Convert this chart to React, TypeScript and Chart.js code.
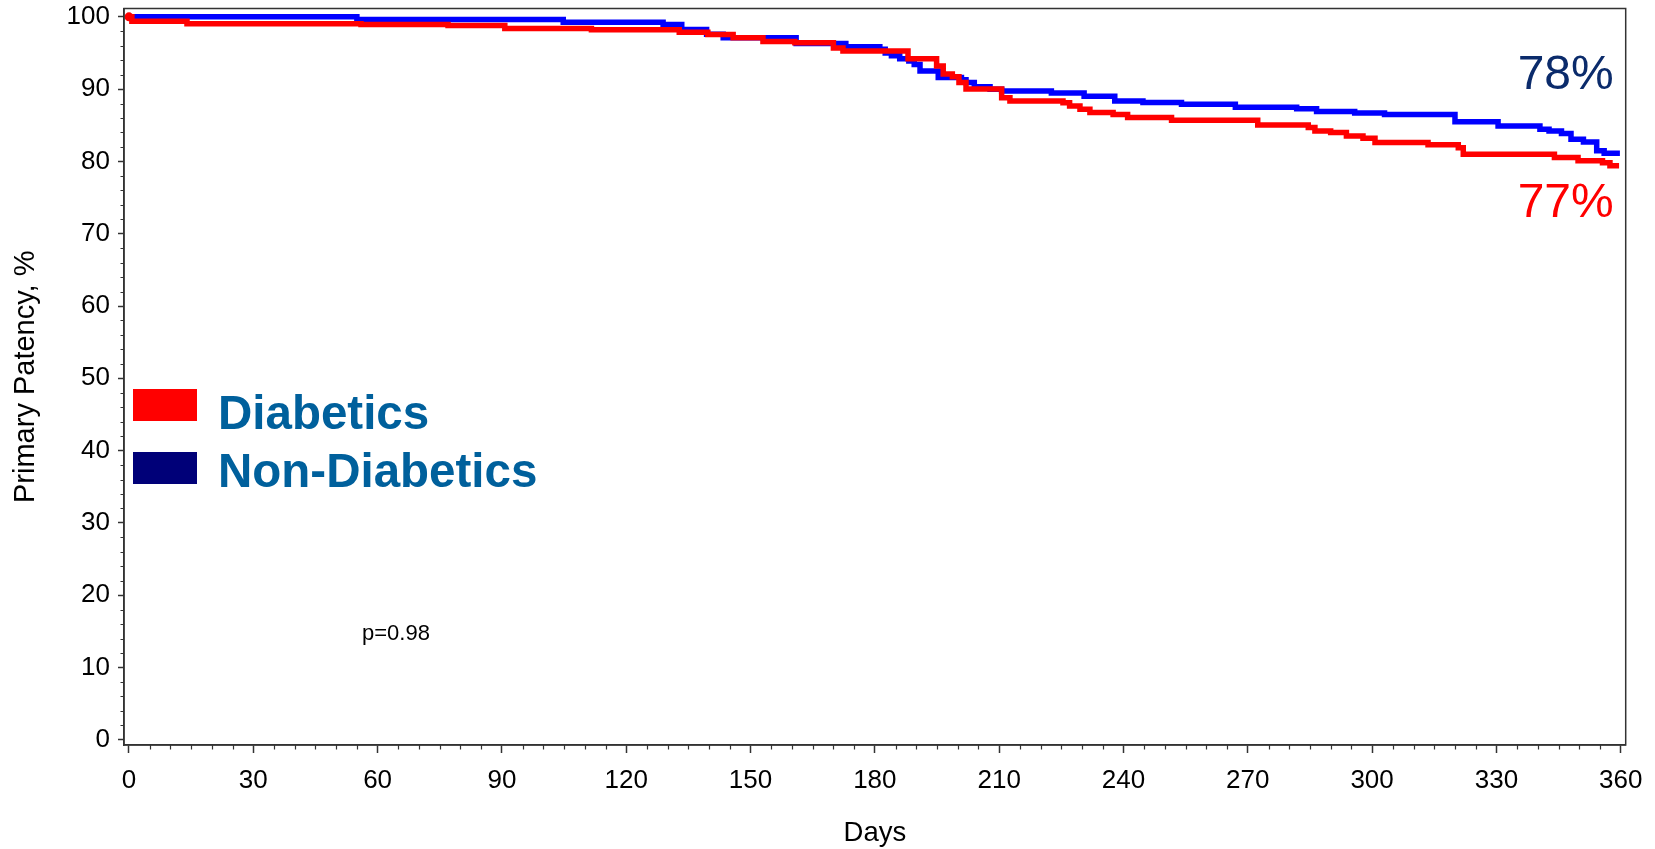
import React, { useEffect, useRef } from 'react';
import { Chart, registerables } from 'chart.js';

Chart.register(...registerables);

// Kaplan-Meier primary patency estimates (days, % patent)
const diabeticsDays = [
  0, 0.7, 14, 56, 77, 90.7, 111.6, 132.8, 139.7, 145.8, 153, 160.7, 170, 172.3,
  188, 194.9, 196.5, 198.7, 200.3, 202, 210.6, 212.6, 225.4, 227, 229.5, 231.9,
  237.5, 241, 251.6, 272.4, 284.6, 286.2, 290, 293.8, 297.8, 300.7, 313.5, 320.8,
  322, 344, 349.7, 355.6, 357.4, 359.6,
];
const diabeticsPatency = [
  100, 99.4, 99.03, 98.95, 98.8, 98.4, 98.2, 97.85, 97.55, 97.1, 96.6, 96.4, 95.7, 95.28,
  94.2, 93.2, 92.1, 91.7, 90.9, 90.0, 88.8, 88.36, 88.1, 87.65, 87.2, 86.78,
  86.5, 86.07, 85.7, 85.05, 84.7, 84.2, 84.0, 83.5, 83.2, 82.6, 82.3, 81.9,
  81.0, 80.55, 80.1, 79.8, 79.4, 79.4,
];

const nonDiabeticsDays = [
  0, 55, 104.8, 128.9, 133.4, 139.4, 143.4, 161, 173, 181.2, 182.5, 184, 186,
  188.2, 189.5, 190.9, 195.3, 200.9, 202, 204, 207.8, 210.6, 222.6, 230.5, 237.9,
  244.7, 254, 267, 281.8, 286.6, 295.8, 303, 320, 330.4, 340.5, 342.7, 345.7,
  348, 351, 354.2, 356, 359.8,
];
const nonDiabeticsPatency = [
  100, 99.63, 99.26, 98.94, 98.25, 97.6, 97.1, 96.3, 95.85, 95.5, 95.0, 94.6, 94.2,
  93.9, 93.4, 92.5, 91.6, 91.3, 90.9, 90.34, 89.97, 89.74, 89.45, 89.0, 88.36,
  88.14, 87.9, 87.5, 87.3, 86.9, 86.7, 86.5, 85.5, 84.9, 84.45, 84.2, 83.86,
  83.07, 82.7, 81.46, 81.14, 81.14,
];

const xTickValues = [0, 30, 60, 90, 120, 150, 180, 210, 240, 270, 300, 330, 360];
const yTickValues = [0, 10, 20, 30, 40, 50, 60, 70, 80, 90, 100];
const seriesNames = ['Diabetics', 'Non-Diabetics'];
const oneYearLabels = ['77%', '78%'];
const pValueText = 'p=0.98';
const xTitle = 'Days';
const yTitle = 'Primary Patency, %';

const FONT = "'Liberation Sans', Arial, Helvetica, sans-serif";
const RED = '#ff0000';
const BLUE = '#0000ff';
const NAVY = '#000078';
const LEGEND_TEXT = '#00609c';
const LABEL_NAVY = '#0b2b6b';
const AXIS = '#333333';

const toPoints = (days: number[], values: number[]) =>
  days.map((d, i) => ({ x: d, y: values[i] }));

const decorations = {
  id: 'kmDecorations',
  afterDraw(chart: any) {
    const { ctx, chartArea: a, scales } = chart;
    const x = scales.x;
    const y = scales.y;
    ctx.save();

    // frame round the plot area
    ctx.strokeStyle = AXIS;
    ctx.lineWidth = 1.5;
    ctx.strokeRect(a.left, a.top, a.right - a.left, a.bottom - a.top);

    // minor tick marks
    ctx.lineWidth = 1.2;
    ctx.beginPath();
    for (let d = 0; d <= 360; d += 5) {
      if (d % 30 === 0) continue;
      const px = Math.round(x.getPixelForValue(d)) + 0.5;
      ctx.moveTo(px, a.bottom);
      ctx.lineTo(px, a.bottom + 4.5);
    }
    for (let v = 0; v <= 100; v += 2) {
      if (v % 10 === 0) continue;
      const py = Math.round(y.getPixelForValue(v)) + 0.5;
      ctx.moveTo(a.left, py);
      ctx.lineTo(a.left - 3.5, py);
    }
    ctx.stroke();

    // legend
    const lx = a.left + 9;
    ctx.fillStyle = RED;
    ctx.fillRect(lx, 389, 64, 32);
    ctx.fillStyle = NAVY;
    ctx.fillRect(lx, 452, 64, 32);
    ctx.fillStyle = LEGEND_TEXT;
    ctx.font = `bold 47.5px ${FONT}`;
    ctx.textAlign = 'left';
    ctx.textBaseline = 'alphabetic';
    ctx.fillText(seriesNames[0], lx + 85, 429);
    ctx.fillText(seriesNames[1], lx + 85, 487);

    // one-year estimates
    ctx.font = `48px ${FONT}`;
    ctx.textAlign = 'right';
    ctx.fillStyle = LABEL_NAVY;
    ctx.fillText(oneYearLabels[1], a.right - 12, 89);
    ctx.fillStyle = RED;
    ctx.fillText(oneYearLabels[0], a.right - 12, 217);

    // log-rank p value
    ctx.font = `22px ${FONT}`;
    ctx.textAlign = 'left';
    ctx.fillStyle = '#000000';
    ctx.fillText(pValueText, 362, 640);

    ctx.restore();
  },
};

export default function App() {
  const canvasRef = useRef<HTMLCanvasElement | null>(null);

  useEffect(() => {
    const canvas = canvasRef.current;
    if (!canvas) return;
    const chart = new Chart(canvas, {
      type: 'line',
      data: {
        datasets: [
          {
            label: seriesNames[0],
            data: toPoints(diabeticsDays, diabeticsPatency),
            borderColor: RED,
            backgroundColor: RED,
            borderWidth: 5.5,
            stepped: 'before',
            fill: false,
            pointRadius: (c: any) => (c.dataIndex === 0 ? 4.5 : 0),
            pointBorderWidth: 0,
            pointBackgroundColor: RED,
          },
          {
            label: seriesNames[1],
            data: toPoints(nonDiabeticsDays, nonDiabeticsPatency),
            borderColor: BLUE,
            backgroundColor: BLUE,
            borderWidth: 5.5,
            stepped: 'before',
            fill: false,
            pointRadius: 0,
          },
        ],
      },
      options: {
        responsive: false,
        animation: false,
        events: [],
        layout: { padding: { left: 0, right: 29.3, top: 8.5, bottom: 0 } },
        plugins: {
          legend: { display: false },
          tooltip: { enabled: false },
        },
        scales: {
          x: {
            type: 'linear',
            min: -1.2,
            max: 361.2,
            afterBuildTicks: (s: any) => {
              s.ticks = xTickValues.map((v) => ({ value: v }));
            },
            afterFit: (s: any) => {
              s.height = 104;
            },
            ticks: {
              autoSkip: false,
              maxRotation: 0,
              padding: 12,
              color: '#000000',
              font: { family: FONT, size: 26 },
            },
            grid: {
              drawOnChartArea: false,
              drawTicks: true,
              tickLength: 8,
              tickWidth: 1.5,
              tickColor: AXIS,
            },
            border: { display: true, color: AXIS, width: 1.5 },
            title: {
              display: true,
              text: xTitle,
              color: '#000000',
              font: { family: FONT, size: 27.5, lineHeight: 1.15 },
              padding: { top: 0, bottom: 0 },
            },
          },
          y: {
            type: 'linear',
            min: -0.72,
            max: 101.15,
            afterBuildTicks: (s: any) => {
              s.ticks = yTickValues.map((v) => ({ value: v }));
            },
            afterFit: (s: any) => {
              s.width = 124;
            },
            ticks: {
              autoSkip: false,
              padding: 8,
              color: '#000000',
              font: { family: FONT, size: 26, lineHeight: 0.01 },
            },
            grid: {
              drawOnChartArea: false,
              drawTicks: true,
              tickLength: 6,
              tickWidth: 1.5,
              tickColor: AXIS,
            },
            border: { display: true, color: AXIS, width: 1.5 },
            title: {
              display: true,
              text: yTitle,
              color: '#000000',
              font: { family: FONT, size: 29 },
              padding: { top: 9, bottom: 0 },
            },
          },
        },
      },
      plugins: [decorations],
    } as any);
    return () => chart.destroy();
  }, []);

  return (
    <div style={{ position: 'fixed', left: 0, top: 0, width: 1655, height: 849, background: '#ffffff' }}>
      <canvas ref={canvasRef} width={1655} height={849} style={{ display: 'block' }} />
    </div>
  );
}
